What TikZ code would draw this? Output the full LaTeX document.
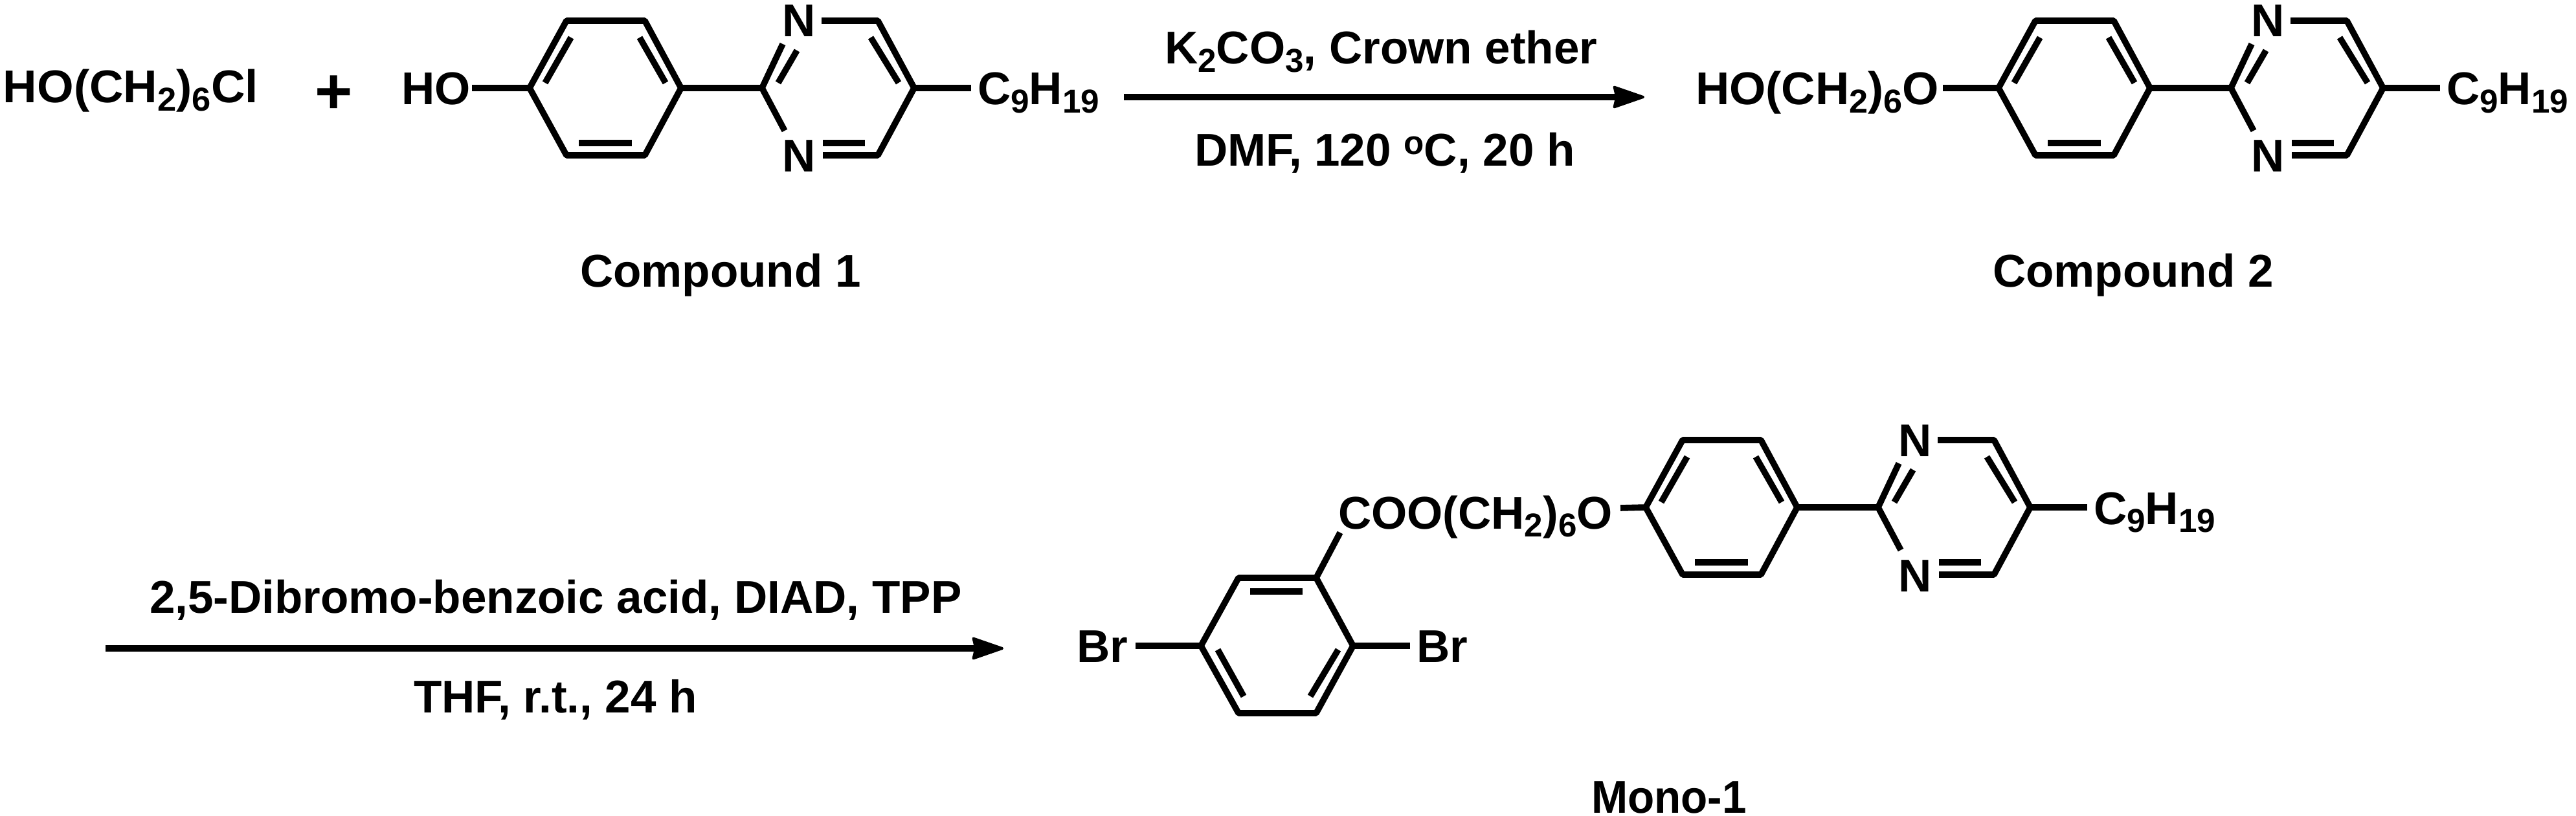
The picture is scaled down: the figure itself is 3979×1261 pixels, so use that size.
\documentclass[tikz,border=0pt]{standalone}
\usepackage{fontspec}
\setmainfont{Liberation Sans}[BoldFont={Liberation Sans Bold}]
\usetikzlibrary{arrows.meta}
\newcommand\sbs[1]{\raisebox{-3.2pt}{\fontsize{12.8}{14}\selectfont #1}}
\newcommand\sps[1]{\raisebox{4.6pt}{\fontsize{12.8}{14}\selectfont #1}}
\tikzset{
  every node/.style={inner sep=0pt,outer sep=0pt},
  txt/.style={anchor=base west,font=\fontsize{17.75}{20}\selectfont\bfseries},
  atm/.style={anchor=base,font=\fontsize{17.75}{20}\selectfont\bfseries},
  plusmark/.style={anchor=base west,font=\fontsize{25}{28}\selectfont\bfseries},
  bondline/.style={line width=2.4pt,line cap=butt,line join=bevel},
  rxn/.style={line width=2.5pt,-{Stealth[round,length=13.25pt,width=9pt,inset=1pt,line width=1pt]}},
}
% biaryl core, given in the coordinates of Compound 1
\newcommand\biaryl[3]{%
\begin{scope}[shift={(#2,#3)}]
  \coordinate (#1a1) at (818,136);
  \coordinate (#1a2) at (875,32);
  \coordinate (#1a3) at (996,32);
  \coordinate (#1a4) at (1052,136);
  \coordinate (#1a5) at (996,240);
  \coordinate (#1a6) at (875,240);
  \coordinate (#1p1) at (1177,136);
  \coordinate (#1p2) at (1209,68);
  \coordinate (#1p3) at (1269,32);
  \coordinate (#1p4) at (1356,32);
  \coordinate (#1p5) at (1412,136);
  \coordinate (#1p6) at (1356,240);
  \coordinate (#1p7) at (1271,240);
  \coordinate (#1p8) at (1212,202);
  \coordinate (#1c) at (1500,136);
  \coordinate (#1i1) at (842,128);
  \coordinate (#1i2) at (882,58);
  \coordinate (#1i3) at (988,58);
  \coordinate (#1i4) at (1028,128);
  \coordinate (#1i5) at (894,221);
  \coordinate (#1i6) at (976,221);
  \coordinate (#1i7) at (1202,128);
  \coordinate (#1i8) at (1231,78);
  \coordinate (#1i9) at (1345,58);
  \coordinate (#1i10) at (1388,128);
  \coordinate (#1i11) at (1271,221);
  \coordinate (#1i12) at (1336,221);
  \node[atm] (#1n1) at (1234,57) {N};
  \node[atm] (#1n2) at (1234,266) {N};
  \node[txt] (#1alk) at (1510,162) {C\sbs{9}H\sbs{19}};
  \draw[bondline] (#1a1) -- (#1a2) -- (#1a3) -- (#1a4) -- (#1a5) -- (#1a6) -- cycle;
  \draw[bondline] (#1a4) -- (#1p1);
  \draw[bondline] (#1p2) -- (#1p1) -- (#1p8);
  \draw[bondline] (#1p3) -- (#1p4) -- (#1p5) -- (#1p6) -- (#1p7);
  \draw[bondline] (#1p5) -- (#1c);
  \draw[bondline] (#1i1) -- (#1i2);
  \draw[bondline] (#1i3) -- (#1i4);
  \draw[bondline] (#1i5) -- (#1i6);
  \draw[bondline] (#1i7) -- (#1i8);
  \draw[bondline] (#1i9) -- (#1i10);
  \draw[bondline] (#1i11) -- (#1i12);
\end{scope}}
\begin{document}
\begin{tikzpicture}[x=0.25pt,y=-0.25pt]
\fill[white] (0,0) rectangle (3979,1261);
\useasboundingbox (0,0) rectangle (3979,1261);
% first row
\node[txt] (hexcl) at (5,159) {\scalebox{1.025}[1]{HO(CH\sbs{2})\sbs{6}Cl}};
\node[plusmark] (plus) at (486,176) {+};
\biaryl{A}{0}{0}
\node[txt] (aho) at (620,162) {HO};
\coordinate (aoe) at (729,136);
\draw[bondline] (aoe) -- (Aa1);
\node[txt] (lab1) at (896,443) {Compound 1};
\coordinate (r1s) at (1736,150);
\coordinate (r1e) at (2540,150);
\draw[rxn] (r1s) -- (r1e);
\node[txt] (r1a) at (1799,99) {K\sbs{2}CO\sbs{3}, Crown ether};
\node[txt] (r1b) at (1845,257) {DMF, 120 \sps{o}C, 20 h};
\biaryl{B}{2269}{0}
\node[txt] (bho) at (2619,162) {\scalebox{1.02}[1]{HO(CH\sbs{2})\sbs{6}O}};
\coordinate (boe) at (3001,136);
\draw[bondline] (boe) -- (Ba1);
\node[txt] (lab2) at (3078,443) {Compound 2};
% second row
\coordinate (r2s) at (163,1002);
\coordinate (r2e) at (1550,1002);
\draw[rxn] (r2s) -- (r2e);
\node[txt] (r2a) at (231,947) {2,5-Dibromo-benzoic acid, DIAD, TPP};
\node[txt] (r2b) at (639,1101) {THF, r.t., 24 h};
\biaryl{C}{1724}{648}
\node[txt] (ctext) at (2067,817) {COO(CH\sbs{2})\sbs{6}O};
\coordinate (coe) at (2503,785);
\draw[bondline] (coe) -- (Ca1);
\coordinate (d1) at (1855,998);
\coordinate (d2) at (1913,893);
\coordinate (d3) at (2033,893);
\coordinate (d4) at (2090,998);
\coordinate (d5) at (2033,1102);
\coordinate (d6) at (1913,1102);
\coordinate (dco) at (2070,823);
\coordinate (dbl) at (1754,998);
\coordinate (dbr) at (2178,998);
\coordinate (di1) at (1931,914);
\coordinate (di2) at (2012,914);
\coordinate (di3) at (1881,1004);
\coordinate (di4) at (1921,1076);
\coordinate (di5) at (2067,1004);
\coordinate (di6) at (2024,1076);
\draw[bondline] (d1) -- (d2) -- (d3) -- (d4) -- (d5) -- (d6) -- cycle;
\draw[bondline] (d3) -- (dco);
\draw[bondline] (d1) -- (dbl);
\draw[bondline] (d4) -- (dbr);
\draw[bondline] (di1) -- (di2);
\draw[bondline] (di3) -- (di4);
\draw[bondline] (di5) -- (di6);
\node[txt] (brl) at (1663,1023) {Br};
\node[txt] (brr) at (2188,1023) {Br};
\node[txt] (lab3) at (2458,1256) {\scalebox{0.95}[1]{Mono-1}};
\end{tikzpicture}
\end{document}
